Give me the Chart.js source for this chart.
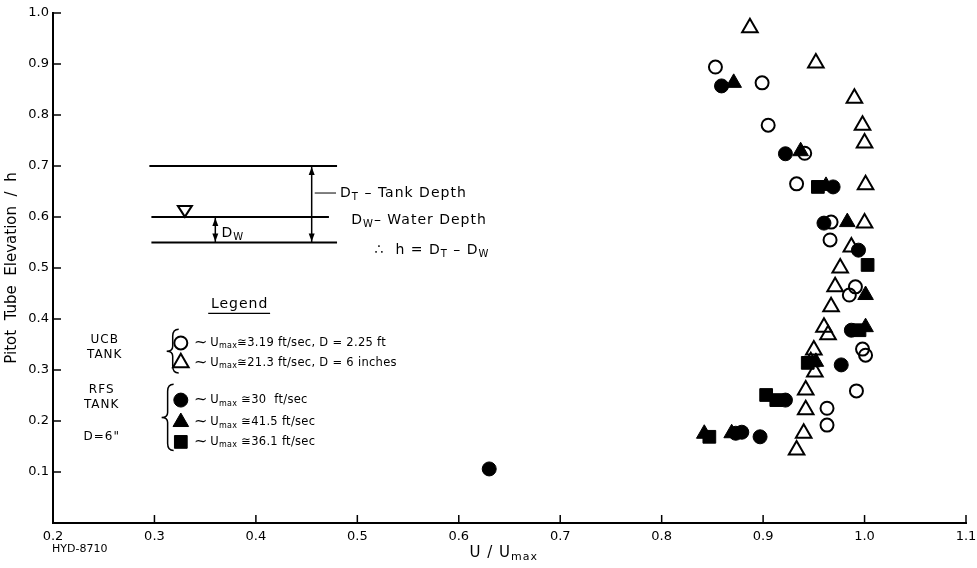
<!DOCTYPE html>
<html>
<head>
<meta charset="utf-8">
<script src="https://cdn.jsdelivr.net/npm/chart.js@4.4.1/dist/chart.umd.min.js"></script>
<style>
  html, body { margin: 0; padding: 0; background: #fff; }
  #wrap { width: 977px; height: 568px; }
</style>
</head>
<body>
<div id="wrap"><canvas id="chart" width="977" height="568"></canvas></div>
<script>
// Pitot tube velocity profiles, U/Umax vs elevation/h
const FONT = '"DejaVu Sans", "Liberation Sans", sans-serif';

// UCB tank, open circles (Umax 3.19 ft/sec, D = 2.25 ft)
const ucbCircleX = [0.853, 0.899, 0.905, 0.941, 0.933, 0.967, 0.966, 0.991, 0.985, 0.998, 1.001, 0.992, 0.963, 0.963];
const ucbCircleY = [0.894, 0.863, 0.780, 0.725, 0.665, 0.590, 0.555, 0.463, 0.447, 0.341, 0.329, 0.259, 0.225, 0.192];

// UCB tank, open triangles (Umax 2.13 ft/sec, D = 6 inches)
const ucbTriX = [0.887, 0.952, 0.990, 0.998, 1.000, 1.001, 1.000, 0.987, 0.976, 0.971, 0.967, 0.960, 0.964, 0.950, 0.947, 0.951, 0.942, 0.942, 0.940, 0.933];
const ucbTriY = [0.971, 0.902, 0.833, 0.780, 0.745, 0.663, 0.588, 0.541, 0.500, 0.463, 0.424, 0.384, 0.369, 0.339, 0.316, 0.296, 0.261, 0.222, 0.176, 0.143];

// RFS tank, filled circles (Umax 3.0 ft/sec)
const rfsCircleX = [0.859, 0.922, 0.969, 0.960, 0.994, 0.987, 0.977, 0.922, 0.873, 0.879, 0.897, 0.630];
const rfsCircleY = [0.857, 0.724, 0.659, 0.588, 0.535, 0.378, 0.310, 0.241, 0.176, 0.178, 0.169, 0.106];

// RFS tank, filled triangles (Umax 4.15 ft/sec)
const rfsTriX = [0.871, 0.937, 0.962, 0.983, 1.001, 1.001, 0.952, 0.842, 0.869];
const rfsTriY = [0.863, 0.729, 0.661, 0.590, 0.447, 0.384, 0.316, 0.175, 0.176];

// RFS tank, filled squares (Umax 3.61 ft/sec)
const rfsSquareX = [0.954, 1.003, 0.995, 0.944, 0.903, 0.913, 0.847];
const rfsSquareY = [0.659, 0.506, 0.378, 0.314, 0.251, 0.241, 0.169];

const xTicks = [0.2, 0.3, 0.4, 0.5, 0.6, 0.7, 0.8, 0.9, 1.0, 1.1];
const yTicks = [0.1, 0.2, 0.3, 0.4, 0.5, 0.6, 0.7, 0.8, 0.9, 1.0];

const pts = (xs, ys) => xs.map((x, i) => ({ x, y: ys[i] }));

const styles = {
  ucbCircle:  { pointStyle: 'circle',   radius: 6.5, backgroundColor: 'rgba(0,0,0,0)', borderColor: '#000', borderWidth: 2 },
  ucbTri:     { pointStyle: 'triangle', radius: 9,   backgroundColor: 'rgba(0,0,0,0)', borderColor: '#000', borderWidth: 2 },
  rfsCircle:  { pointStyle: 'circle',   radius: 7,   backgroundColor: '#000', borderColor: '#000', borderWidth: 1 },
  rfsTri:     { pointStyle: 'triangle', radius: 9,   backgroundColor: '#000', borderColor: '#000', borderWidth: 1 },
  rfsSquare:  { pointStyle: 'rect',     radius: 9,   backgroundColor: '#000', borderColor: '#000', borderWidth: 1 }
};

const ds = (label, data, s) => ({
  label, data,
  pointStyle: s.pointStyle,
  pointRadius: s.radius,
  pointHoverRadius: s.radius,
  pointBackgroundColor: s.backgroundColor,
  pointBorderColor: s.borderColor,
  pointBorderWidth: s.borderWidth,
  showLine: false
});

// text with subscripts: parts = [[text, isSub], ...]
function subText(ctx, parts, x, y, size, spacing) {
  let cx = x;
  ctx.letterSpacing = (spacing || 0) + 'px';
  parts.forEach(([t, isSub]) => {
    ctx.font = (isSub ? Math.round(size * 0.72) : size) + 'px ' + FONT;
    ctx.fillText(t, cx, isSub ? y + size * 0.3 : y);
    cx += ctx.measureText(t).width;
  });
  ctx.letterSpacing = '0px';
  return cx;
}

function arrowHead(ctx, x, y, dir) {
  ctx.beginPath();
  ctx.moveTo(x, y);
  ctx.lineTo(x - 3, y - dir * 8);
  ctx.lineTo(x + 3, y - dir * 8);
  ctx.closePath();
  ctx.fill();
}

function brace(ctx, x, y0, y1) {
  const m = (y0 + y1) / 2;
  ctx.beginPath();
  ctx.moveTo(x + 6, y0);
  ctx.quadraticCurveTo(x, y0, x, y0 + 7);
  ctx.lineTo(x, m - 5);
  ctx.quadraticCurveTo(x, m, x - 6, m);
  ctx.quadraticCurveTo(x, m, x, m + 5);
  ctx.lineTo(x, y1 - 7);
  ctx.quadraticCurveTo(x, y1, x + 6, y1);
  ctx.stroke();
}

const inwardTicks = {
  id: 'inwardTicks',
  afterDraw(chart) {
    const { ctx, chartArea: a, scales: { x, y } } = chart;
    ctx.save();
    ctx.strokeStyle = '#000';
    ctx.lineWidth = 1.5;
    xTicks.forEach(v => {
      const px = x.getPixelForValue(v);
      ctx.beginPath(); ctx.moveTo(px, a.bottom); ctx.lineTo(px, a.bottom - 8); ctx.stroke();
    });
    yTicks.forEach(v => {
      const py = y.getPixelForValue(v);
      ctx.beginPath(); ctx.moveTo(a.left, py); ctx.lineTo(a.left + 8, py); ctx.stroke();
    });
    ctx.restore();
  }
};

const annotations = {
  id: 'annotations',
  afterDraw(chart) {
    const { ctx, chartArea: a, scales: { x, y } } = chart;
    const X = v => x.getPixelForValue(v), Y = v => y.getPixelForValue(v);
    ctx.save();
    ctx.fillStyle = '#000';
    ctx.strokeStyle = '#000';
    ctx.textBaseline = 'middle';

    // tank sketch
    ctx.lineWidth = 2;
    [[0.295, 0.480, 0.70], [0.297, 0.472, 0.60], [0.297, 0.480, 0.55]].forEach(([x0, x1, h]) => {
      ctx.beginPath(); ctx.moveTo(X(x0), Y(h)); ctx.lineTo(X(x1), Y(h)); ctx.stroke();
    });
    ctx.lineWidth = 1.5;
    ctx.beginPath(); ctx.moveTo(X(0.455), Y(0.70)); ctx.lineTo(X(0.455), Y(0.55)); ctx.stroke();
    arrowHead(ctx, X(0.455), Y(0.70) + 1, -1);
    arrowHead(ctx, X(0.455), Y(0.55) - 1, 1);
    ctx.beginPath(); ctx.moveTo(X(0.360), Y(0.60)); ctx.lineTo(X(0.360), Y(0.55)); ctx.stroke();
    arrowHead(ctx, X(0.360), Y(0.60) + 1, -1);
    arrowHead(ctx, X(0.360), Y(0.55) - 1, 1);
    ctx.lineWidth = 1;
    ctx.beginPath(); ctx.moveTo(X(0.458), Y(0.647)); ctx.lineTo(X(0.479), Y(0.647)); ctx.stroke();

    // water surface symbol
    const wx = X(0.330), wy = Y(0.612);
    ctx.lineWidth = 2;
    ctx.beginPath(); ctx.moveTo(wx - 7, wy - 5); ctx.lineTo(wx + 7, wy - 5); ctx.lineTo(wx, wy + 6); ctx.closePath(); ctx.stroke();

    ctx.textAlign = 'left';
    subText(ctx, [['D', 0], ['W', 1]], X(0.366), Y(0.568), 14, 1);
    subText(ctx, [['D', 0], ['T', 1], [' \u2013 Tank Depth', 0]], X(0.483), Y(0.647), 14, 1);
    subText(ctx, [['D', 0], ['W', 1], ['\u2013 Water Depth', 0]], X(0.494), Y(0.594), 14, 1);
    subText(ctx, [['\u2234  h = D', 0], ['T', 1], [' \u2013 D', 0], ['W', 1]], X(0.517), Y(0.535), 14, 1);

    // legend box
    ctx.textAlign = 'center';
    ctx.font = '14px ' + FONT;
    ctx.letterSpacing = '1px';
    ctx.fillText('Legend', X(0.384), Y(0.428));
    ctx.lineWidth = 1.2;
    ctx.beginPath(); ctx.moveTo(X(0.353), Y(0.411)); ctx.lineTo(X(0.414), Y(0.411)); ctx.stroke();

    ctx.font = '12px ' + FONT;
    ctx.fillText('UCB', X(0.251), Y(0.359));
    ctx.fillText('TANK', X(0.251), Y(0.329));
    ctx.fillText('RFS', X(0.248), Y(0.261));
    ctx.fillText('TANK', X(0.248), Y(0.231));
    ctx.fillText('D=6"', X(0.248), Y(0.169));
    ctx.letterSpacing = '0px';

    ctx.lineWidth = 1.5;
    brace(ctx, X(0.318), Y(0.380), Y(0.294));
    brace(ctx, X(0.313), Y(0.272), Y(0.142));

    const rows = [
      [styles.ucbCircle, 0.353, '\u22453.19 ft/sec, D = 2.25 ft'],
      [styles.ucbTri,    0.314, '\u224521.3 ft/sec, D = 6 inches'],
      [styles.rfsCircle, 0.241, ' \u224530  ft/sec'],
      [styles.rfsTri,    0.198, ' \u224541.5 ft/sec'],
      [styles.rfsSquare, 0.159, ' \u224536.1 ft/sec']
    ];
    ctx.textAlign = 'left';
    rows.forEach(([s, h, tail]) => {
      const px = X(0.326), py = Y(h);
      ctx.save();
      ctx.fillStyle = s.backgroundColor;
      ctx.strokeStyle = s.borderColor;
      ctx.lineWidth = s.borderWidth;
      Chart.helpers.drawPoint(ctx, { pointStyle: s.pointStyle, radius: s.radius, rotation: 0, borderWidth: s.borderWidth }, px, py);
      ctx.restore();
      ctx.font = '16px ' + FONT;
      ctx.fillText('~', X(0.339), py);
      subText(ctx, [['U', 0], ['max', 1], [tail, 0]], X(0.355), py, 11.5, 0.3);
    });

    // axis title & plate number
    ctx.textAlign = 'left';
    const tx = (a.left + a.right) / 2 - 40;
    subText(ctx, [['U / U', 0], ['max', 1]], tx, 553, 15, 1);
    ctx.font = '11px ' + FONT;
    ctx.fillText('HYD-8710', 52, 549);
    ctx.restore();
  }
};

new Chart(document.getElementById('chart'), {
  type: 'scatter',
  data: {
    datasets: [
      ds('UCB 3.19 ft/sec', pts(ucbCircleX, ucbCircleY), styles.ucbCircle),
      ds('UCB 2.13 ft/sec', pts(ucbTriX, ucbTriY), styles.ucbTri),
      ds('RFS 3.0 ft/sec', pts(rfsCircleX, rfsCircleY), styles.rfsCircle),
      ds('RFS 4.15 ft/sec', pts(rfsTriX, rfsTriY), styles.rfsTri),
      ds('RFS 3.61 ft/sec', pts(rfsSquareX, rfsSquareY), styles.rfsSquare)
    ]
  },
  options: {
    responsive: false,
    animation: false,
    layout: { padding: { top: 13, right: 9, left: 0, bottom: 0 } },
    plugins: { legend: { display: false }, tooltip: { enabled: false } },
    scales: {
      x: {
        type: 'linear', min: 0.2, max: 1.1,
        afterFit: s => { s.height = 45; s.paddingRight = 0; s.paddingLeft = 0; },
        afterBuildTicks: s => { s.ticks = xTicks.map(v => ({ value: v })); },
        grid: { display: false, drawTicks: false },
        border: { display: true, color: '#000', width: 2 },
        ticks: { color: '#000', padding: 6, font: { family: FONT, size: 13 }, callback: v => (+v).toFixed(1) }
      },
      y: {
        type: 'linear', min: 0, max: 1.0,
        afterFit: s => { s.width = 53; },
        afterBuildTicks: s => { s.ticks = yTicks.map(v => ({ value: v })); },
        grid: { display: false, drawTicks: false },
        border: { display: true, color: '#000', width: 2 },
        ticks: { color: '#000', padding: 4, font: { family: FONT, size: 13 }, callback: v => (+v).toFixed(1) },
        title: { display: true, text: 'Pitot  Tube  Elevation  /  h', color: '#000', font: { family: FONT, size: 15 }, padding: { top: 3, bottom: 0 } }
      }
    }
  },
  plugins: [inwardTicks, annotations]
});
</script>
</body>
</html>
